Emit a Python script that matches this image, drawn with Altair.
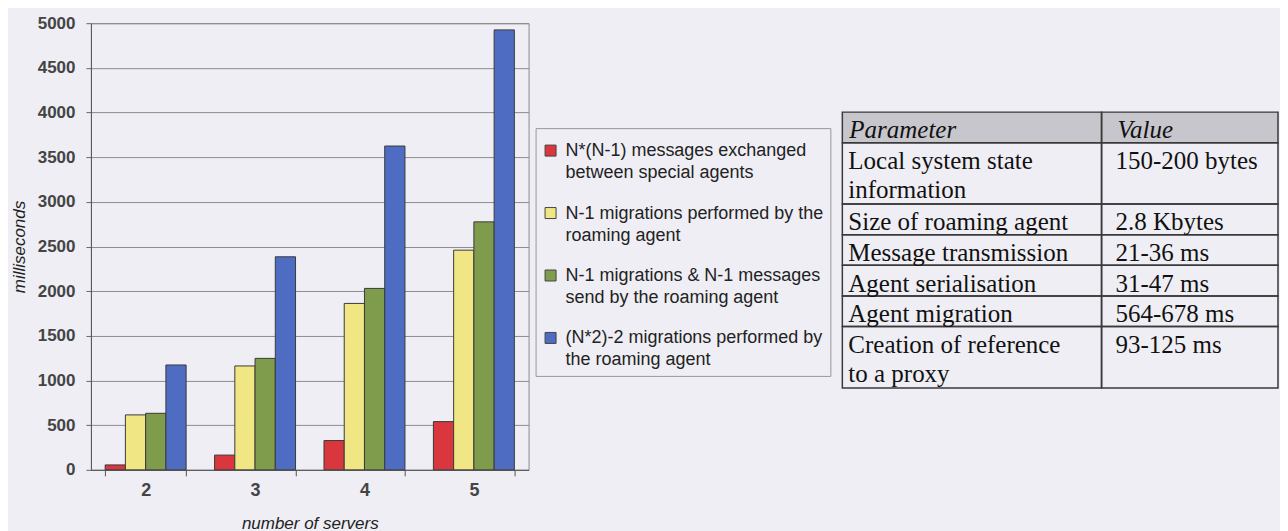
import altair as alt
import pandas as pd

# ---------------- data ----------------
servers = ["2", "3", "4", "5"]
series = [
    "N*(N-1) messages exchanged\nbetween special agents",
    "N-1 migrations performed by the\nroaming agent",
    "N-1 migrations & N-1 messages\nsend by the roaming agent",
    "(N*2)-2 migrations performed by\nthe roaming agent",
]
msg_exchanged = [55, 165, 328, 540]
migrations = [615, 1163, 1863, 2459]
migr_and_msgs = [633, 1248, 2031, 2776]
double_migrations = [1174, 2385, 3625, 4925]
colors = ["#d9363e", "#f0e683", "#7e9c4c", "#4e6dc2"]
y_ticks = [0, 500, 1000, 1500, 2000, 2500, 3000, 3500, 4000, 4500, 5000]

table_params = [
    "Parameter",
    "Local system state\ninformation",
    "Size of roaming agent",
    "Message transmission",
    "Agent serialisation",
    "Agent migration",
    "Creation of reference\nto a proxy",
]
table_values = ["Value", "150-200 bytes", "2.8 Kbytes", "21-36 ms", "31-47 ms",
                "564-678 ms", "93-125 ms"]

BG = "#eeeef4"
SANS = "Liberation Sans"
SERIF = "Liberation Serif"

# ---------------- bar chart ----------------
recs = []
for i, s in enumerate(servers):
    for name, vals in zip(series, [msg_exchanged, migrations, migr_and_msgs, double_migrations]):
        recs.append({"servers": s, "series": name, "ms": vals[i]})
bdf = pd.DataFrame(recs)

bars = alt.Chart(bdf).mark_bar(stroke="#3a3a3a", strokeWidth=1).encode(
    x=alt.X("servers:N", sort=servers, title="number of servers",
            scale=alt.Scale(paddingInner=0.26, paddingOuter=0.13),
            axis=alt.Axis(labelAngle=0, tickBand="extent", tickSize=6, tickColor="#555",
                          domainColor="#555", labelFont=SANS, labelFontSize=18,
                          labelFontWeight="bold", labelColor="#444", labelPadding=6,
                          titleFont=SANS, titleFontSize=17, titleFontStyle="italic",
                          titleFontWeight="normal", titleColor="#222", titlePadding=16,
                          grid=False)),
    xOffset=alt.XOffset("series:N", sort=series,
                        scale=alt.Scale(paddingInner=0, paddingOuter=0)),
    y=alt.Y("ms:Q", title="milliseconds",
            scale=alt.Scale(domain=[0, 5000], nice=False),
            axis=alt.Axis(values=y_ticks, format="d", tickSize=5, tickColor="#666",
                          domainColor="#555", gridColor="#8c8c8c", gridWidth=1,
                          labelFont=SANS, labelFontSize=17, labelFontWeight="bold",
                          labelColor="#444", labelPadding=11, titleFont=SANS,
                          titleFontSize=17, titleFontStyle="italic",
                          titleFontWeight="normal", titleColor="#222", titlePadding=9)),
    color=alt.Color("series:N", sort=series,
                    scale=alt.Scale(domain=series, range=colors),
                    legend=alt.Legend(title=" ", titleFontSize=10, titlePadding=3,
                                      orient="none", legendX=445, legendY=105,
                                      direction="vertical", symbolType="M-1,-2H1V0H-1Z",
                                      symbolSize=121, symbolStrokeColor="#444",
                                      symbolStrokeWidth=1, labelFont=SANS,
                                      labelFontSize=18, labelColor="#222", labelLimit=400,
                                      labelExpr="split(datum.label, '\\n')",
                                      labelBaseline="alphabetic", labelOffset=6,
                                      rowPadding=22.5, padding=6, strokeColor="#999",
                                      fillColor=BG)),
).properties(width=438, height=447, view=alt.ViewBackground(stroke="#8c8c8c"))

# ---------------- table ----------------
nlines = [max(p.count("\n"), v.count("\n")) + 1 for p, v in zip(table_params, table_values)]
tops = []
acc = 0
for n in nlines:
    tops.append(acc)
    acc += n
total_lines = acc
COL_SPLIT = 0.595

trows = []
for i, (p, v) in enumerate(zip(table_params, table_values)):
    top = tops[i]
    bot = top + nlines[i]
    trows.append({"row": i, "col": "param", "text": p, "x0": 0.0, "x1": COL_SPLIT,
                  "top": top, "bottom": bot, "first": top + 0.5})
    trows.append({"row": i, "col": "value", "text": v, "x0": COL_SPLIT, "x1": 1.0,
                  "top": top, "bottom": bot, "first": top + 0.5})
tdf = pd.DataFrame(trows)

TW = 436
TH = 276
T0 = 89
xs = alt.Scale(domain=[0, 1], range=[0, TW])
ys = alt.Scale(domain=[0, total_lines], range=[T0, T0 + TH])

base = alt.Chart(tdf)
header_bg = base.transform_filter("datum.row == 0").mark_rect(fill="#c6c6cc").encode(
    x=alt.X("x0:Q", scale=xs, axis=None), x2="x1:Q",
    y=alt.Y("top:Q", scale=ys, axis=None), y2="bottom:Q")
cells = base.mark_rect(fillOpacity=0, stroke="#3a3a3a", strokeWidth=1.5).encode(
    x=alt.X("x0:Q", scale=xs, axis=None), x2="x1:Q",
    y=alt.Y("top:Q", scale=ys, axis=None), y2="bottom:Q")


def text_layer(filt, dx, italic):
    kw = dict(align="left", baseline="middle", dx=dx, dy=3, font=SERIF, fontSize=25,
              lineBreak="\n", lineHeight=29, color="#111")
    if italic:
        kw["fontStyle"] = "italic"
    return base.transform_filter(filt).mark_text(**kw).encode(
        x=alt.X("x0:Q", scale=xs, axis=None),
        y=alt.Y("first:Q", scale=ys, axis=None),
        text="text:N")


table = alt.layer(
    header_bg, cells,
    text_layer("datum.row == 0 && datum.col == 'param'", 7, True),
    text_layer("datum.row == 0 && datum.col == 'value'", 16, True),
    text_layer("datum.row > 0 && datum.col == 'param'", 6, False),
    text_layer("datum.row > 0 && datum.col == 'value'", 14, False),
).properties(width=TW, height=T0 + TH + 4, view=alt.ViewBackground(stroke="transparent"))

chart = alt.hconcat(bars, table, spacing=311).properties(
    background=BG, padding={"left": 1, "top": 5, "right": 0, "bottom": 0}
).configure(style={"guide-label": {"lineHeight": 22}})

chart.save("out.html", embed_options={"renderer": "svg", "actions": False})
